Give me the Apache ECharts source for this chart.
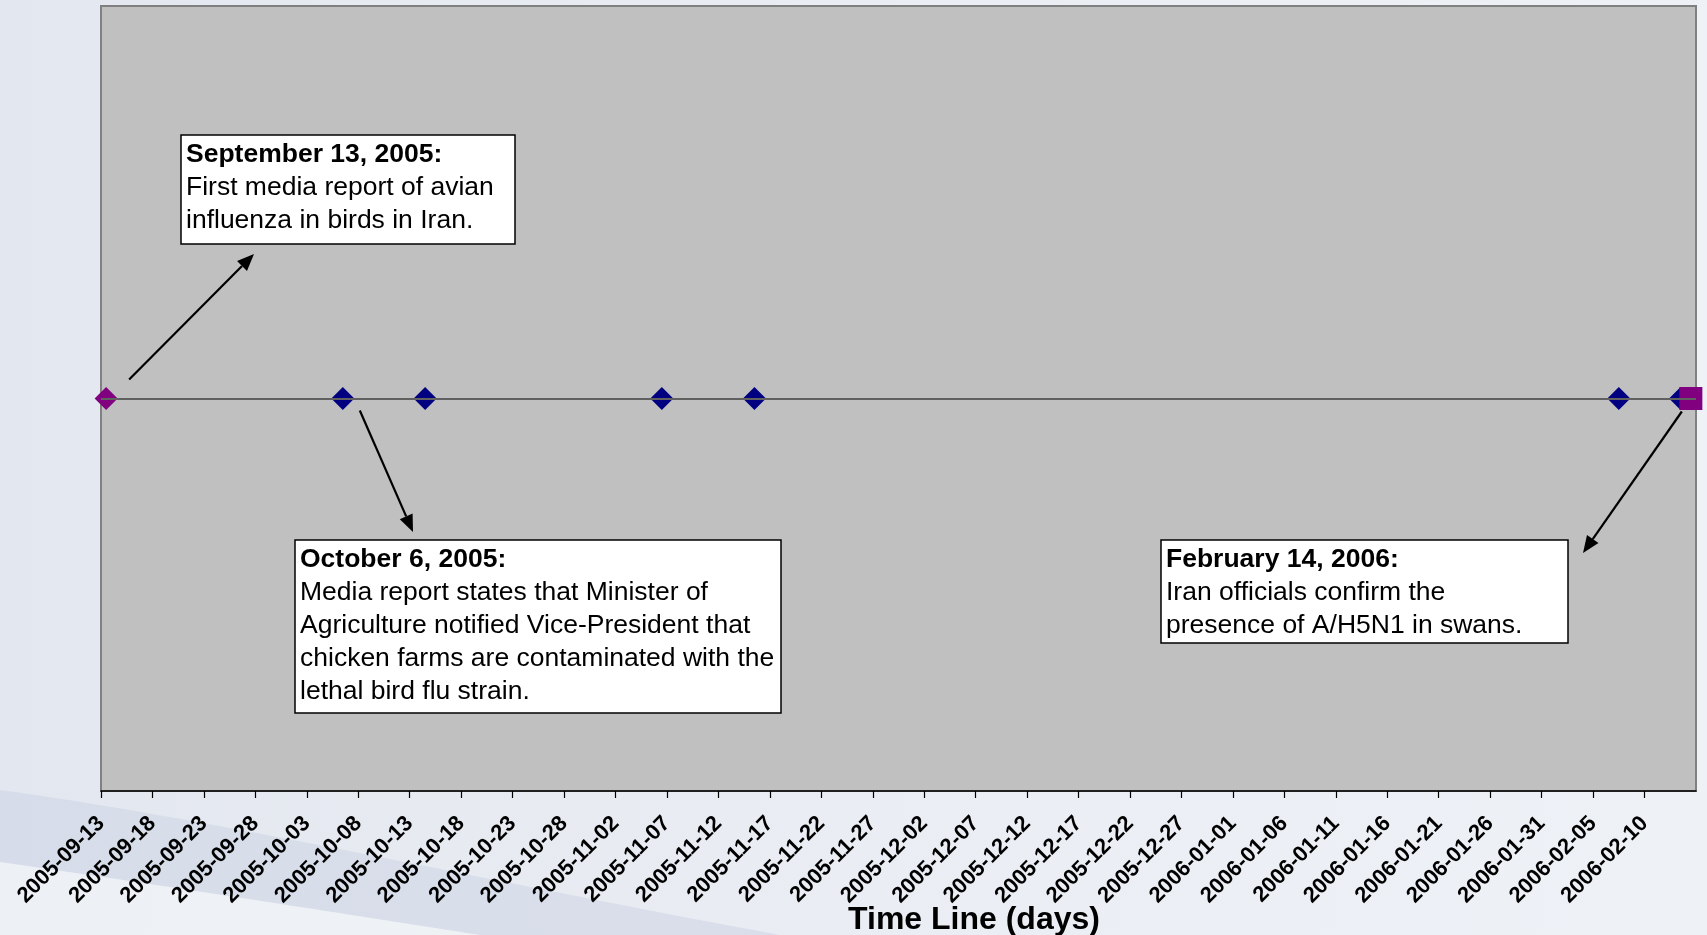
<!DOCTYPE html>
<html>
<head>
<meta charset="utf-8">
<script src="https://cdn.jsdelivr.net/npm/echarts@6/dist/echarts.min.js"></script>
<style>
  html, body { margin: 0; padding: 0; }
  #chart { width: 1707px; height: 935px; }
</style>
</head>
<body>
<div id="chart"></div>
<script>
// Time line of avian influenza (A/H5N1) reports in Iran, 2005-2006
const AXIS_START = '2005-09-13';
const AXIS_END = '2006-02-15';
const TICK_STEP_DAYS = 5;

// Event dates
const firstReport = ['2005-09-13'];
const mediaReports = ['2005-10-06', '2005-10-14', '2005-11-06', '2005-11-15', '2006-02-07', '2006-02-13'];
const confirmation = ['2006-02-14'];
const TIMELINE_LEVEL = 1;

// Callout texts
const noteDates = ['2005-09-13', '2005-10-06', '2006-02-14'];
const noteHeads = ['September 13, 2005:', 'October 6, 2005:', 'February 14, 2006:'];
const noteBodies = [
  ['First media report of avian', 'influenza in birds in Iran.'],
  ['Media report states that Minister of', 'Agriculture notified Vice-President that',
   'chicken farms are contaminated with the', 'lethal bird flu strain.'],
  ['Iran officials confirm the', 'presence of A/H5N1 in swans.']
];

const DAY = 86400000;
const t0 = Date.parse(AXIS_START + 'T00:00:00Z');
const dayOffset = d => (Date.parse(d + 'T00:00:00Z') - t0) / DAY;
const axisMax = dayOffset(AXIS_END);
// each event sits in the middle of its day
const toPoints = arr => arr.map(d => [dayOffset(d) + 0.5, TIMELINE_LEVEL]);

const FONT = '"Liberation Sans", Arial, Helvetica, sans-serif';

const chart = echarts.init(document.getElementById('chart'), null, { renderer: 'canvas' });

chart.setOption({
  animation: false,
  backgroundColor: {
    type: 'linear', x: 0, y: 0, x2: 1, y2: 0,
    colorStops: [
      { offset: 0, color: '#E3E7EF' },
      { offset: 0.5, color: '#EAEDF3' },
      { offset: 1, color: '#EEF1F6' }
    ]
  },
  grid: {
    left: 101, right: 11, top: 6, bottom: 144,
    show: true,
    backgroundColor: '#C0C0C0',
    borderColor: '#808080',
    borderWidth: 2
  },
  xAxis: {
    type: 'value',
    min: 0,
    max: axisMax,
    interval: TICK_STEP_DAYS,
    axisLine: { show: true, lineStyle: { color: '#000', width: 1.5 } },
    axisTick: { show: true, length: 7, lineStyle: { color: '#000', width: 1.2 } },
    splitLine: { show: false },
    axisLabel: {
      rotate: 45,
      margin: 29,
      showMaxLabel: false,
      color: '#000',
      fontFamily: FONT,
      fontWeight: 'bold',
      fontSize: 22,
      formatter: v => new Date(t0 + v * DAY).toISOString().slice(0, 10)
    }
  },
  yAxis: {
    type: 'value', min: 0, max: 2, show: false
  },
  series: [
    {
      type: 'line', data: [], z: 2,
      markLine: {
        silent: true, symbol: 'none',
        label: { show: false },
        lineStyle: { color: '#606060', width: 2, type: 'solid' },
        data: [{ yAxis: TIMELINE_LEVEL }]
      }
    },
    {
      type: 'scatter', z: 3, symbol: 'diamond', symbolSize: 23,
      itemStyle: { color: '#000080', opacity: 1 },
      data: toPoints(mediaReports)
    },
    {
      type: 'scatter', z: 4, symbol: 'diamond', symbolSize: 23,
      itemStyle: { color: '#800080', opacity: 1 },
      data: toPoints(firstReport)
    },
    {
      type: 'scatter', z: 4, symbol: 'rect', symbolSize: 23,
      itemStyle: { color: '#800080', opacity: 1 },
      data: toPoints(confirmation)
    }
  ]
});

// Callout boxes and arrows
const boxes = [
  { x: 181, y: 135, w: 334, h: 109, arrowFrom: [23, -19], arrowTo: [254, 254] },
  { x: 295, y: 540, w: 486, h: 173, arrowFrom: [17, 12], arrowTo: [413, 532] },
  { x: 1161, y: 540, w: 407, h: 103, arrowFrom: [-9, 13], arrowTo: [1583, 553] }
];

function arrow(p0, p1) {
  const dx = p1[0] - p0[0], dy = p1[1] - p0[1];
  const len = Math.hypot(dx, dy), ux = dx / len, uy = dy / len;
  const hl = 17, hw = 7;
  const bx = p1[0] - ux * hl, by = p1[1] - uy * hl;
  return [
    { type: 'line', z: 20, shape: { x1: p0[0], y1: p0[1], x2: bx, y2: by },
      style: { stroke: '#000', lineWidth: 2.2 } },
    { type: 'polygon', z: 20, shape: { points: [[p1[0], p1[1]], [bx - uy * hw, by + ux * hw], [bx + uy * hw, by - ux * hw]] },
      style: { fill: '#000' } }
  ];
}

// cubic bezier sampled into polygon points
function bez(p0, c1, c2, p1, n) {
  const pts = [];
  for (let i = 0; i <= n; i++) {
    const t = i / n, s = 1 - t;
    pts.push([
      s * s * s * p0[0] + 3 * s * s * t * c1[0] + 3 * s * t * t * c2[0] + t * t * t * p1[0],
      s * s * s * p0[1] + 3 * s * s * t * c1[1] + 3 * s * t * t * c2[1] + t * t * t * p1[1]
    ]);
  }
  return pts;
}

const upperEdge = bez([0, 790], [220, 820], [480, 880], [780, 935], 40);
const lowerEdge = bez([0, 862], [160, 885], [320, 910], [480, 935], 40);

const graphics = [
  // soft swoosh in the lower-left of the backdrop
  { type: 'polygon', z: -10, silent: true,
    shape: { points: upperEdge.concat(lowerEdge.slice().reverse()) },
    style: { fill: 'rgba(204,211,227,0.55)' } },
  { type: 'polygon', z: -10, silent: true,
    shape: { points: lowerEdge.concat([[0, 935]]) },
    style: { fill: 'rgba(244,246,249,0.6)' } }
];

boxes.forEach((b, i) => {
  const p = chart.convertToPixel({ gridIndex: 0 }, [dayOffset(noteDates[i]) + 0.5, TIMELINE_LEVEL]);
  graphics.push(...arrow([p[0] + b.arrowFrom[0], p[1] + b.arrowFrom[1]], b.arrowTo));
  graphics.push({
    type: 'rect', z: 15,
    shape: { x: b.x, y: b.y, width: b.w, height: b.h },
    style: { fill: '#fff', stroke: '#000', lineWidth: 1.5 }
  });
  const lines = [noteHeads[i]].concat(noteBodies[i]);
  lines.forEach((t, k) => {
    graphics.push({
      type: 'text', z: 16,
      style: {
        text: t, x: b.x + 5, y: b.y + 29 + 33 * k - 9,
        verticalAlign: 'middle', align: 'left',
        font: (k === 0 ? 'bold ' : '') + '26.5px ' + FONT,
        fill: '#000'
      }
    });
  });
});

graphics.push({
  type: 'text', z: 16,
  style: {
    text: 'Time Line (days)', x: 974, y: 920,
    align: 'center', verticalAlign: 'middle',
    font: 'bold 32px ' + FONT, fill: '#000'
  }
});

chart.setOption({ graphic: graphics });
</script>
</body>
</html>
